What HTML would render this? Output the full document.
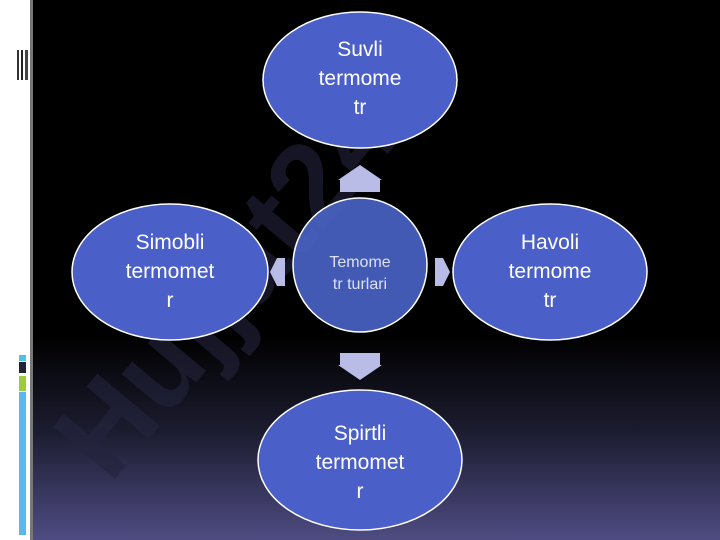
<!DOCTYPE html>
<html><head><style>
body{margin:0;width:720px;height:540px;overflow:hidden;background:#000;font-family:"Liberation Sans","DejaVu Sans",sans-serif}
</style></head><body>
<svg width="720" height="540" xmlns="http://www.w3.org/2000/svg" style="position:absolute;left:0;top:0">
<defs>
<linearGradient id="bg" x1="0" y1="0" x2="0" y2="1">
<stop offset="0" stop-color="#000"/><stop offset="0.62" stop-color="#000"/>
<stop offset="0.8" stop-color="#1c1c30"/><stop offset="1" stop-color="#4e4c82"/>
</linearGradient>
</defs>
<rect width="720" height="540" fill="url(#bg)"/>
<rect x="0" y="0" width="30" height="540" fill="#fff"/>
<rect x="30" y="0" width="3" height="540" fill="#777"/>
<rect x="17" y="50" width="2" height="30" fill="#333"/>
<rect x="21" y="50" width="2" height="30" fill="#222"/>
<rect x="25" y="50" width="3" height="30" fill="#444"/>
<rect x="19" y="355" width="7" height="6" fill="#4cc3e0"/>
<rect x="19" y="362" width="7" height="11" fill="#222236"/>
<rect x="19" y="376" width="7" height="15" fill="#9ccc3c"/>
<rect x="19" y="392" width="7" height="143" fill="#5cb8ea"/>
<text x="0" y="0" transform="translate(110,485) rotate(-50)" font-size="118" font-weight="bold" fill="#24243e" opacity="0.6">Hujjat24</text>
<g fill="#4a5fc8" stroke="#fff" stroke-width="1.5">
<ellipse cx="360" cy="80" rx="97" ry="68"/>
<ellipse cx="170" cy="272" rx="98" ry="68"/>
<ellipse cx="550" cy="272" rx="97" ry="68"/>
<ellipse cx="360" cy="460" rx="102" ry="70"/>
</g>
<circle cx="360" cy="265" r="67" fill="#4a64c8" fill-opacity="0.9" stroke="#fff" stroke-width="1.5"/>
<g fill="#b8bce6">
<polygon points="340,192 340,180 338,180 360,165 382,180 380,180 380,192"/>
<polygon points="340,353 340,365 338,365 360,380 382,365 380,365 380,353"/>
<polygon points="285,258 277,258 270,272 277,286 285,286"/>
<polygon points="435,258 443,258 450,272 443,286 435,286"/>
</g>
<g fill="#fff" font-size="21" text-anchor="middle">
<text x="360" y="56">Suvli</text><text x="360" y="85">termome</text><text x="360" y="114">tr</text>
<text x="170" y="249">Simobli</text><text x="170" y="278">termomet</text><text x="170" y="307">r</text>
<text x="550" y="249">Havoli</text><text x="550" y="278">termome</text><text x="550" y="307">tr</text>
<text x="360" y="440">Spirtli</text><text x="360" y="469">termomet</text><text x="360" y="498">r</text>
</g>
<g fill="#dde0f5" font-size="16" text-anchor="middle">
<text x="360" y="267">Temome</text><text x="360" y="289">tr turlari</text>
</g>
</svg>
</body></html>
